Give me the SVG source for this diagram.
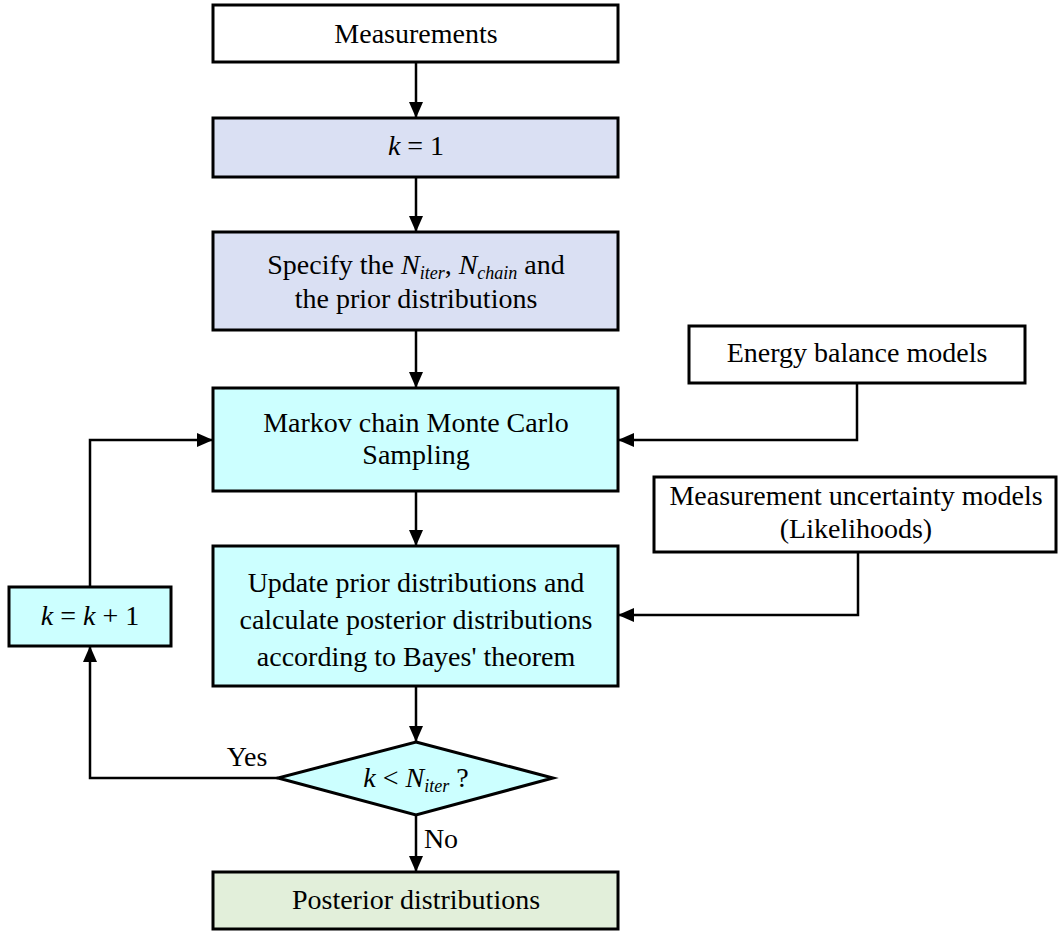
<svg xmlns="http://www.w3.org/2000/svg" width="1058" height="931" viewBox="0 0 1058 931">
<style>
.box{stroke:#000;stroke-width:3}
.t{font-family:"Liberation Serif","Times New Roman",serif;font-size:28px;fill:#000;text-anchor:middle}
.i{font-style:italic}
.sub{font-size:18px;font-style:italic}
.c{fill:none;stroke:#000;stroke-width:2.5}
</style>
<defs>
<marker id="ah" markerUnits="userSpaceOnUse" markerWidth="16" markerHeight="14" viewBox="0 0 16 14" refX="16" refY="7" orient="auto">
<path d="M0,0 L16,7 L0,14 z" fill="#000"/>
</marker>
</defs>
<rect width="1058" height="931" fill="#fff"/>
<g id="connectors">
<line class="c" x1="416" y1="62" x2="416" y2="118" marker-end="url(#ah)"/>
<line class="c" x1="416" y1="177" x2="416" y2="232" marker-end="url(#ah)"/>
<line class="c" x1="416" y1="330" x2="416" y2="388" marker-end="url(#ah)"/>
<line class="c" x1="416" y1="491" x2="416" y2="546" marker-end="url(#ah)"/>
<line class="c" x1="416" y1="686" x2="416" y2="742" marker-end="url(#ah)"/>
<line class="c" x1="416" y1="815" x2="416" y2="872" marker-end="url(#ah)"/>
<path class="c" d="M278,778 H90 V646" marker-end="url(#ah)"/>
<path class="c" d="M90,587 V440 H213" marker-end="url(#ah)"/>
<path class="c" d="M857,383 V440 H618" marker-end="url(#ah)"/>
<path class="c" d="M858,552 V615 H618" marker-end="url(#ah)"/>
</g>
<g id="measurements">
<rect class="box" x="213" y="5" width="405" height="57" fill="#fff"/>
<text class="t" x="416" y="43">Measurements</text>
</g>
<g id="k1">
<rect class="box" x="213" y="118" width="405" height="59" fill="#DAE0F3"/>
<text class="t" x="416" y="155"><tspan class="i">k</tspan> = 1</text>
</g>
<g id="specify">
<rect class="box" x="213" y="232" width="405" height="98" fill="#DAE0F3"/>
<text class="t" x="416" y="274">Specify the <tspan class="i">N</tspan><tspan class="sub" dy="5">iter</tspan><tspan dy="-5">, </tspan><tspan class="i">N</tspan><tspan class="sub" dy="5">chain</tspan><tspan dy="-5"> and</tspan></text>
<text class="t" x="416" y="308">the prior distributions</text>
</g>
<g id="mcmc">
<rect class="box" x="213" y="388" width="405" height="103" fill="#CCFFFF"/>
<text class="t" x="416" y="432">Markov chain Monte Carlo</text>
<text class="t" x="416" y="464">Sampling</text>
</g>
<g id="update">
<rect class="box" x="213" y="546" width="405" height="140" fill="#CCFFFF"/>
<text class="t" x="416" y="592">Update prior distributions and</text>
<text class="t" x="416" y="629">calculate posterior distributions</text>
<text class="t" x="416" y="666">according to Bayes' theorem</text>
</g>
<g id="decision">
<polygon class="box" points="416,742 553,778 416,815 278,778" fill="#CCFFFF"/>
<text class="t" x="416" y="787"><tspan class="i">k</tspan> &lt; <tspan class="i">N</tspan><tspan class="sub" dy="5">iter</tspan><tspan dy="-5"> ?</tspan></text>
</g>
<g id="kinc">
<rect class="box" x="9" y="587" width="162" height="59" fill="#CCFFFF"/>
<text class="t" x="90" y="625"><tspan class="i">k</tspan> = <tspan class="i">k</tspan> + 1</text>
</g>
<g id="posterior">
<rect class="box" x="213" y="872" width="405" height="57" fill="#E2EFDA"/>
<text class="t" x="416" y="909">Posterior distributions</text>
</g>
<g id="energy">
<rect class="box" x="689" y="326" width="336" height="57" fill="#fff"/>
<text class="t" x="857" y="362">Energy balance models</text>
</g>
<g id="uncertainty">
<rect class="box" x="654" y="477" width="402" height="75" fill="#fff"/>
<text class="t" x="856" y="505">Measurement uncertainty models</text>
<text class="t" x="856" y="538">(Likelihoods)</text>
</g>
<g id="labels">
<text class="t" x="247" y="766">Yes</text>
<text class="t" x="441" y="848">No</text>
</g>
</svg>
